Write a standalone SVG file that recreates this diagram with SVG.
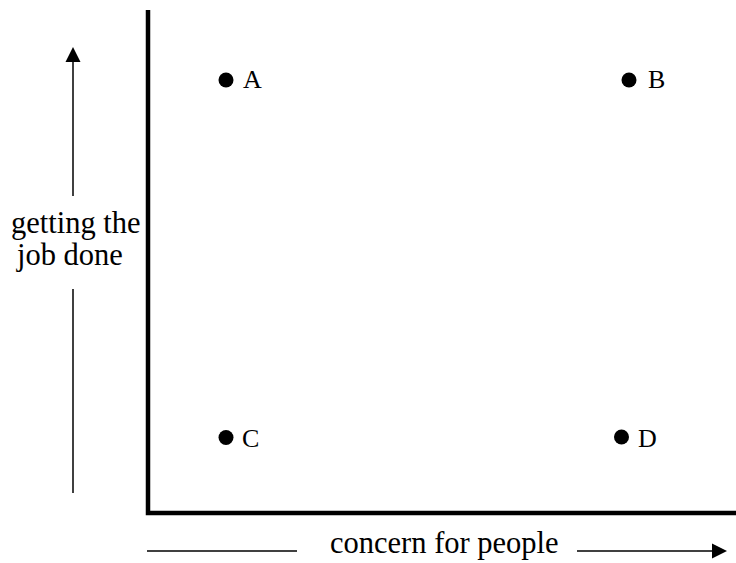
<svg xmlns="http://www.w3.org/2000/svg" width="736" height="563" viewBox="0 0 736 563">
<style>
.lbl{font-family:"Liberation Serif","Times New Roman",serif;font-size:30.5px;fill:#000}
.pt{font-family:"Liberation Serif","Times New Roman",serif;font-size:26px;fill:#000}
.axis{stroke:#000;stroke-width:4.5;fill:none}
.thin{stroke:#000;stroke-width:1.5;fill:none}
</style>
<rect width="736" height="563" fill="#fff"/>
<g id="connectors">
<path class="axis" d="M148,10 V513 H736"/>
<line class="thin" x1="73" y1="62" x2="73" y2="196"/>
<polygon points="73,47 65.5,62 80.5,62" fill="#000"/>
<line class="thin" x1="73" y1="289" x2="73" y2="493"/>
<line class="thin" x1="147" y1="551" x2="297" y2="551"/>
<line class="thin" x1="577" y1="551" x2="713" y2="551"/>
<polygon points="727,551 712,543.5 712,558.5" fill="#000"/>
</g>
<g id="yLabel">
<text class="lbl" x="11" y="233">getting the</text>
<text class="lbl" x="17" y="265">job done</text>
</g>
<g id="xLabel">
<text class="lbl" x="330" y="553">concern for people</text>
</g>
<g id="A"><circle cx="226" cy="80" r="7.5"/><text class="pt" x="243" y="88">A</text></g>
<g id="B"><circle cx="629" cy="80" r="7.5"/><text class="pt" x="648" y="88">B</text></g>
<g id="C"><circle cx="226" cy="437.5" r="7.5"/><text class="pt" x="242" y="447">C</text></g>
<g id="D"><circle cx="621.5" cy="437" r="7.5"/><text class="pt" x="638" y="447">D</text></g>
</svg>
